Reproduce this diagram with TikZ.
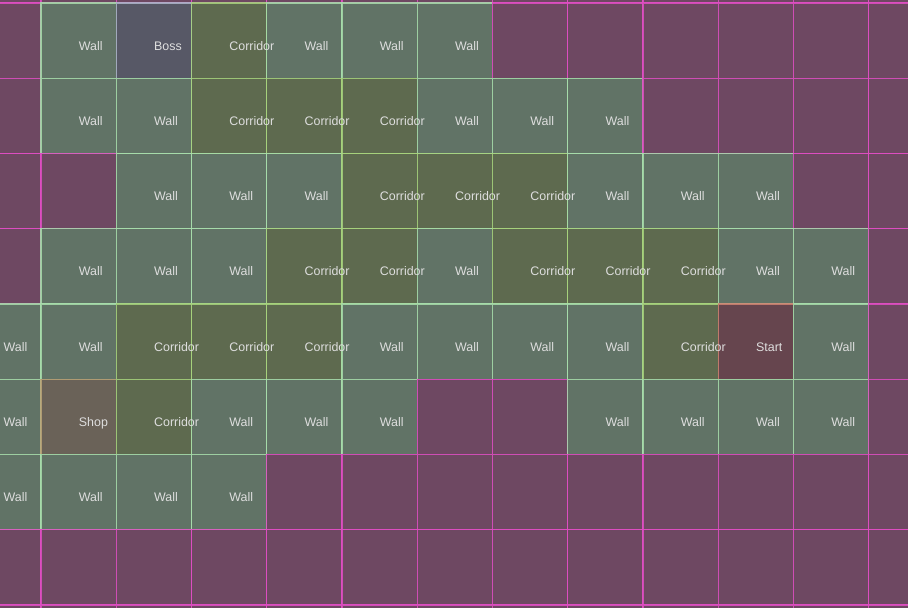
\documentclass[tikz,border=0pt]{standalone}
\usepackage{fontspec}
\setmainfont{Liberation Sans}
\definecolor{MapVoid}     {HTML}{6E4862}
\definecolor{MapVoidLine} {HTML}{E04EC4}
\definecolor{MapWall}     {HTML}{617366}
\definecolor{MapWallLine} {HTML}{A8DEAC}
\definecolor{MapHall}     {HTML}{5E6A4F}
\definecolor{MapHallLine} {HTML}{A8D47E}
\definecolor{MapBoss}     {HTML}{575866}
\definecolor{MapBossLine} {HTML}{AEB8CC}
\definecolor{MapStart}    {HTML}{66454E}
\definecolor{MapStartLine}{HTML}{D08472}
\definecolor{MapShop}     {HTML}{6A6258}
\definecolor{MapShopLine} {HTML}{BCA678}
\definecolor{MapText}     {HTML}{DEDEDE}
\newcommand\lblW{Wall}
\newcommand\lblC{Corridor}
\newcommand\lblB{Boss}
\newcommand\lblS{Start}
\newcommand\lblH{Shop}
\newcommand\maprows{
  {E,E,E,E,E,E,E,E,E,E,E,E,E},
  {E,W,B,C,W,W,W,E,E,E,E,E,E},
  {E,W,W,C,C,C,W,W,W,E,E,E,E},
  {E,E,W,W,W,C,C,C,W,W,W,E,E},
  {E,W,W,W,C,C,W,C,C,C,W,W,E},
  {W,W,C,C,C,W,W,W,W,C,S,W,E},
  {W,H,C,W,W,W,E,E,W,W,W,W,E},
  {W,W,W,W,E,E,E,E,E,E,E,E,E},
  {E,E,E,E,E,E,E,E,E,E,E,E,E},
  {E,E,E,E,E,E,E,E,E,E,E,E,E}}

\begin{document}
\begin{tikzpicture}[x=2cm,y=2cm,
    tile/.style={line width=0.8pt,draw opacity=0.85},
    tileE/.style={tile,fill=MapVoid,draw=MapVoidLine},
    tileW/.style={tile,fill=MapWall,draw=MapWallLine},
    tileC/.style={tile,fill=MapHall,draw=MapHallLine},
    tileB/.style={tile,fill=MapBoss,draw=MapBossLine},
    tileS/.style={tile,fill=MapStart,draw=MapStartLine},
    tileH/.style={tile,fill=MapShop,draw=MapShopLine},
    tag/.style={anchor=base west,inner sep=0pt,text=MapText,font=\fontsize{9.4}{11}\selectfont}
  ]
    \useasboundingbox (-0.545,0.04) rectangle (11.522,-8.04);
    \clip (-0.545,0.04) rectangle (11.522,-8.04);
    \foreach \row [count=\r from 0] in \maprows
      \foreach \t [count=\c from -1] in \row
        \draw[tile\t] (\c,1-\r) rectangle ++(1,-1);
    \foreach \row [count=\r from 0] in \maprows
      \foreach \t [count=\c from -1] in \row {
        \if\t E\else
          \node[tag] (tile-\r-\c) at (\c+0.5,0.374-\r) {\csname lbl\t\endcsname};
        \fi
      };
  \end{tikzpicture}
\end{document}
